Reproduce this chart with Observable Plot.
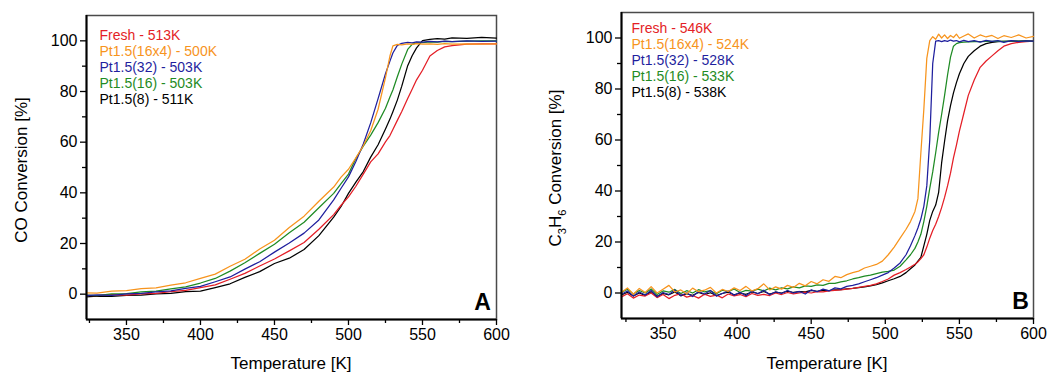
<!DOCTYPE html>
<html>
<head>
<meta charset="utf-8">
<script src="https://cdn.jsdelivr.net/npm/d3@7"></script>
<script src="https://cdn.jsdelivr.net/npm/@observablehq/plot@0.6"></script>
<style>
  html, body { margin: 0; padding: 0; background: #fff; }
  #wrap { display: flex; width: 1049px; height: 376px; }
</style>
</head>
<body>
<div id="wrap"></div>
<script>
// ---------- Data ----------
const seriesNames = ["Fresh", "Pt1.5(16x4)", "Pt1.5(32)", "Pt1.5(16)", "Pt1.5(8)"];
const t50A = ["513K", "500K", "503K", "503K", "511K"];
const t50B = ["546K", "524K", "528K", "533K", "538K"];

// Panel A: CO conversion
const tempA = [323,330,340,350,360,370,380,390,400,410,420,430,440,450,460,470,480,490,495,500,505,510,515,520,525,528,530,533,536,540,543,546,550,555,560,565,570,580,590,600];
const coFresh = [-0.5,-0.6,-0.2,-0.4,0.1,0.3,1.0,1.5,2.6,3.7,5.9,8.2,11.1,13.9,17.1,20.4,25.6,31.4,35.1,38.4,42.6,47.4,52.2,55.4,60.1,62.6,65.0,68.6,72.1,77.2,80.9,84.6,88.4,94.0,96.2,97.6,98.1,98.7,98.8,98.8];
const co16x4 = [0.5,0.4,1.2,1.4,2.2,2.5,3.6,4.5,6.2,7.9,11.0,13.8,17.8,21.3,26.3,30.8,36.7,42.3,46.2,49.3,53.8,58.6,64.5,73.0,85.5,94.0,98.0,98.6,98.4,98.8,98.6,98.9,98.7,98.8,98.6,98.9,98.7,98.8,98.7,98.8];
const co32 = [-0.6,-0.3,-0.5,0.1,0.3,0.9,1.3,2.3,3.1,4.9,6.8,9.9,12.8,16.6,20.2,24.1,29.3,37.2,41.8,46.3,52.4,59.3,67.6,77.2,87.0,92.0,95.2,98.2,99.0,99.4,99.2,99.6,99.5,99.8,99.6,99.9,99.7,100.0,99.8,99.9];
const co16 = [-0.4,-0.6,0.1,0.2,0.9,1.2,2.1,2.9,4.4,6.2,9.1,12.4,16.1,19.7,24.2,28.4,34.1,39.8,43.6,47.4,53.6,58.4,62.8,67.7,73.4,77.8,80.6,85.8,90.8,96.6,98.6,99.2,99.3,99.6,99.5,99.8,99.7,99.9,100.0,100.0];
const co8 = [-1.1,-0.8,-0.9,-0.5,-0.4,0.1,0.3,1.0,1.2,2.6,4.1,6.6,8.9,12.1,14.2,17.6,23.1,30.4,34.6,39.8,44.2,48.4,54.1,59.0,65.2,69.1,72.0,76.6,82.1,90.2,94.1,97.2,100.1,100.6,100.9,100.7,101.2,101.0,101.4,101.1];

// Panel B: C3H6 conversion
const tempB = [322,326,330,334,338,342,346,350,354,358,362,366,370,374,378,382,386,390,394,398,402,406,410,414,418,422,426,430,434,438,442,446,450,454,458,462,466,470,474,478,482,486,490,494,498,
  502,506,510,514,517,520,522,524,526,528,530,532,534,536,538,540,542,544,546,548,550,553,556,560,564,568,572,576,580,585,590,595,600];
const hcFresh = [-1.5,-0.3,-2.0,-0.8,-1.2,0.0,-1.8,-0.6,-2.2,-0.9,-0.3,-1.6,-1.0,-2.0,-0.5,-1.3,-0.8,-1.9,-0.4,-1.1,-0.6,-1.4,-0.2,-0.9,-0.5,-1.0,0.0,-0.6,0.2,-0.3,0.0,0.3,0.0,0.5,0.4,0.8,1.0,1.2,1.5,1.8,2.2,2.6,3.0,3.6,4.5,
  5.5,7.0,8.0,9.2,10.2,11.3,12.2,13.5,15.0,18.0,21.5,24.5,27.0,30.0,33.5,37.5,42.0,47.0,53.0,58.0,63.5,70.5,77.5,83.5,88.5,91.0,93.0,95.0,96.8,97.8,98.3,98.6,98.8];
const hc16x4 = [0.3,2.0,-0.5,1.8,0.2,2.5,0.0,1.5,3.0,0.4,1.2,-0.3,1.9,0.5,1.1,2.2,0.0,1.4,0.6,2.0,1.0,2.6,0.8,1.7,3.6,1.2,2.4,1.5,3.0,2.2,3.8,2.8,4.5,3.6,5.2,4.6,6.5,6.0,7.2,8.0,8.6,9.8,10.5,11.2,12.5,
  15.0,18.0,21.5,25.0,28.0,32.0,37.0,55.0,72.0,92.0,99.0,100.5,99.5,101.5,100.0,101.2,99.8,101.0,100.2,101.5,99.9,100.8,101.6,100.0,101.2,100.4,101.0,99.8,100.9,100.2,101.2,100.0,100.6];
const hc32 = [-0.5,0.8,-1.2,0.4,-0.8,1.0,-1.5,0.2,-0.6,1.2,-1.0,0.0,-1.4,0.6,-0.4,1.0,-1.2,-0.2,0.8,-0.9,0.3,-1.1,0.7,-0.3,1.1,-0.7,0.5,-0.2,1.0,0.0,0.6,-0.4,1.2,0.5,1.5,0.8,2.0,1.6,2.6,3.0,3.6,4.4,5.2,6.0,7.0,
  8.0,9.8,11.8,15.0,18.5,22.5,25.5,29.0,34.0,42.0,60.0,90.0,98.8,99.0,98.6,99.0,98.7,99.2,98.8,99.0,98.5,99.1,98.6,99.0,98.4,99.1,98.7,99.0,98.3,99.0,98.6,98.9,98.8];
const hc16 = [0.2,1.5,-0.4,1.0,0.0,1.6,-0.6,0.8,0.3,1.4,-0.2,0.9,0.0,1.3,0.4,0.9,-0.3,1.1,0.5,1.6,0.2,1.0,0.7,1.5,0.8,1.9,1.2,2.0,1.6,2.4,2.0,2.8,2.6,3.2,3.0,3.8,3.8,4.4,4.8,5.5,6.0,6.6,7.0,7.6,8.2,
  8.5,9.0,10.5,13.0,15.0,17.5,20.0,23.0,28.0,34.0,41.0,47.5,55.0,63.0,70.0,77.5,85.5,92.5,96.8,97.8,98.2,98.4,98.5,98.6,98.6,98.7,98.7,98.8,98.7,98.8,98.8,98.8,98.8];
const hc8 = [-0.8,0.3,-1.2,0.0,-0.9,0.5,-1.3,-0.2,-0.7,0.4,-1.1,-0.3,-0.9,0.2,-0.6,0.1,-1.0,-0.2,0.3,-0.7,0.0,-0.5,0.4,-0.2,0.6,-0.4,0.3,0.0,0.7,0.2,0.5,0.4,1.0,0.6,1.1,0.9,1.2,1.3,1.6,1.8,2.1,2.4,2.8,3.3,4.0,
  4.8,5.6,6.5,8.0,9.5,11.0,12.5,14.0,18.5,23.0,28.5,32.0,34.5,39.5,51.0,59.5,67.5,73.5,78.5,82.5,86.0,90.0,92.8,95.0,96.8,97.8,98.3,98.6,98.7,98.8,98.8,98.9,98.8];

// ---------- Styling ----------
const colors = ["#e41e26", "#f7941d", "#1f1f9e", "#1f8b24", "#000000"];
const drawOrder = [4, 0, 3, 2, 1]; // black, red, green, blue, orange on top
const FONT = "'Liberation Sans', Arial, Helvetica, sans-serif";

function rows(temps, valueArrays) {
  const out = [];
  for (const i of drawOrder) {
    valueArrays[i].forEach((v, k) => out.push({T: temps[k], v, s: seriesNames[i]}));
  }
  return out;
}

function panel(cfg) {
  const data = rows(cfg.temps, cfg.values);
  const legendMarks = seriesNames.map((n, i) =>
    Plot.text([`${n} - ${cfg.t50[i]}`], {
      frameAnchor: "top-left", textAnchor: "start", lineAnchor: "middle",
      dx: cfg.legDx, dy: cfg.legDy + i * cfg.legStep,
      fill: colors[i], fontSize: 14
    })
  );
  return Plot.plot({
    width: cfg.width, height: 376,
    marginLeft: cfg.ml, marginRight: cfg.mr, marginTop: cfg.mt, marginBottom: cfg.mb,
    style: {fontFamily: FONT, fontSize: "16px", background: "white", color: "black"},
    x: {domain: cfg.xDomain},
    y: {domain: [-10, 110]},
    color: {domain: seriesNames, range: colors},
    marks: [
      Plot.frame({stroke: "#4a4a4a", strokeWidth: 1.5}),
      Plot.axisX([350, 400, 450, 500, 550, 600], {tickSize: 6, tickPadding: 3, strokeWidth: 1.3, fontSize: 16, label: null}),
      Plot.axisX([325, 375, 425, 475, 525, 575], {tickSize: 4, strokeWidth: 1.3, tickFormat: () => "", label: null}),
      Plot.axisY([0, 20, 40, 60, 80, 100], {tickSize: 6, tickPadding: 3, strokeWidth: 1.3, fontSize: 16, label: null}),
      Plot.axisY([10, 30, 50, 70, 90], {tickSize: 4, strokeWidth: 1.3, tickFormat: () => "", label: null}),
      Plot.line(data, {x: "T", y: "v", z: "s", stroke: "s", strokeWidth: 1.25, curve: "linear"}),
      Plot.ruleX([cfg.xDomain[0]], {stroke: "black", strokeWidth: 2}),
      Plot.ruleY([-10], {stroke: "black", strokeWidth: 2}),
      ...legendMarks,
      Plot.text([cfg.letter], {frameAnchor: "bottom-right", dx: cfg.letDx, dy: cfg.letDy, fontSize: 23, fontWeight: "bold", textAnchor: "middle", lineAnchor: "middle"})
    ]
  });
}

const wrap = document.getElementById("wrap");

const svgA = panel({
  width: 524, ml: 86, mr: 28, mt: 15, mb: 57,
  xDomain: [323, 600], temps: tempA, values: [coFresh, co16x4, co32, co16, co8],
  t50: t50A, legDx: 13, legDy: 20, legStep: 16, letter: "A", letDx: -14, letDy: -17
});
const svgB = panel({
  width: 525, ml: 97, mr: 16, mt: 12, mb: 58,
  xDomain: [322, 600], temps: tempB, values: [hcFresh, hc16x4, hc32, hc16, hc8],
  t50: t50B, legDx: 10, legDy: 16.5, legStep: 16, letter: "B", letDx: -13, letDy: -17
});
wrap.appendChild(svgA);
wrap.appendChild(svgB);

// axis titles
function addTitles(svg, yx, yy, xx, xy, yParts) {
  const s = d3.select(svg);
  const yt = s.append("text")
    .attr("transform", `translate(${yx},${yy}) rotate(-90)`)
    .attr("text-anchor", "middle").attr("font-size", 17).attr("fill", "black").attr("font-family", FONT);
  for (const p of yParts) {
    const ts = yt.append("tspan").text(p.t);
    if (p.sub) ts.attr("font-size", 11).attr("dy", 5);
    else if (p.after) ts.attr("dy", -5);
  }
  s.append("text").attr("x", xx).attr("y", xy).attr("text-anchor", "middle")
    .attr("font-size", 17).attr("fill", "black").attr("font-family", FONT).text("Temperature [K]");
}
addTitles(svgA, 27, 170, 291, 369, [{t: "CO Conversion [%]"}]);
addTitles(svgB, 37, 168, 303, 369, [
  {t: "C"}, {t: "3", sub: true}, {t: "H", after: true}, {t: "6", sub: true}, {t: " Conversion [%]", after: true}
]);
</script>
</body>
</html>
